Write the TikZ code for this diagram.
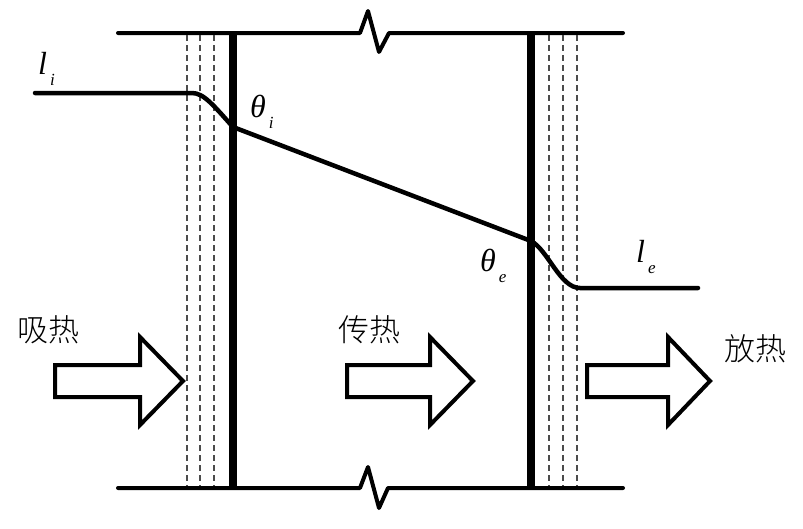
\documentclass[tikz,border=0pt]{standalone}
\usepackage{fontspec}
\newfontfamily\cjk{Noto Sans CJK SC Light}
\newfontfamily\tms{Liberation Serif}
\newcommand{\lbl}[2]{{\tms\itshape\fontsize{32}{32}\selectfont #1\raisebox{-11pt}{\fontsize{17}{17}\selectfont\hspace{3pt}#2}}}
\begin{document}
\begin{tikzpicture}[x=1pt,y=-1pt,
  rail/.style={line width=4pt,line cap=round,line join=round},
  wallline/.style={line width=7.5pt},
  layer/.style={line width=2pt,black!70,dash pattern=on 6pt off 4pt},
  templine/.style={line width=4.5pt,line cap=round,line join=round},
  heatarrow/.style={line width=4pt,line join=miter},
  lab/.style={inner sep=0pt},
  cn/.style={font=\cjk\fontsize{31}{31}\selectfont,inner sep=0pt}]
\useasboundingbox (0,0) rectangle (803,528);
% named points
\coordinate (TL) at (118,33);
\coordinate (TR) at (623,33);
\coordinate (BL) at (118,488);
\coordinate (BR) at (623,488);
\coordinate (WiT) at (233,33);
\coordinate (WiB) at (233,488);
\coordinate (WeT) at (531,33);
\coordinate (WeB) at (531,488);
% rails with break marks
\draw[rail] (TL) -- (360,33) -- (368,11) -- (379,52) -- (389,33) -- (TR);
\draw[rail] (BL) -- (360,488) -- (368,467) -- (379,508) -- (388,488) -- (BR);
% insulation layers (dashed)
\foreach \x in {187,200,214,549,563,577}
  \draw[layer] (\x,35) -- (\x,486);
% walls
\draw[wallline] (WiT) -- (WiB);
\draw[wallline] (WeT) -- (WeB);
% temperature line
\coordinate (Ls) at (35,93);
\coordinate (Le) at (698,288);
\coordinate (Pi) at (233,127);
\coordinate (Pe) at (531,241);
\draw[templine] (Ls) -- (192,93) .. controls (204,93) and (214,106) .. (Pi)
  -- (Pe) .. controls (548,250) and (560,288) .. (580,288) -- (Le);
% labels
\node[lab,anchor=base west] (li) at (38,74) {\lbl{l}{i}};
\node[lab,anchor=base west] (thi) at (250,117) {\lbl{θ}{i}};
\node[lab,anchor=base west] (the) at (480,271) {\lbl{θ}{e}};
\node[lab,anchor=base west] (le) at (636,262) {\lbl{l}{e}};
\node[cn] (q1) at (48,330) {吸热};
\node[cn] (q2) at (369,330) {传热};
\node[cn] (q3) at (755,349) {放热};
% heat arrows
\draw[heatarrow] (55,365) -- (140,365) -- (140,337) -- (183,381) -- (140,425) -- (140,397) -- (55,397) -- cycle;
\draw[heatarrow] (347,365) -- (430,365) -- (430,337) -- (473,381) -- (430,425) -- (430,397) -- (347,397) -- cycle;
\draw[heatarrow] (587,365) -- (668,365) -- (668,337) -- (710,381) -- (668,425) -- (668,397) -- (587,397) -- cycle;
\end{tikzpicture}
\end{document}
